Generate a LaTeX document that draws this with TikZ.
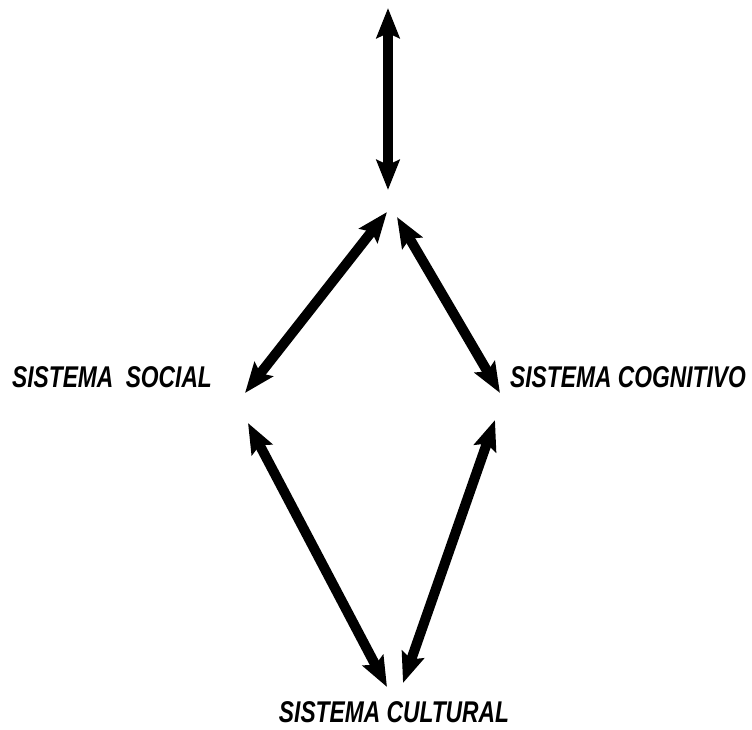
\documentclass[tikz,border=0pt]{standalone}
\usepackage{fontspec}
\newfontfamily\sistfont{Liberation Sans}[FakeStretch=0.76]
\usetikzlibrary{arrows.meta}

\begin{document}
\begin{tikzpicture}[x=1pt, y=-1pt,
    link/.style={line width=10pt, {Stealth[length=30pt,width=23pt,inset=5pt]}-{Stealth[length=30pt,width=23pt,inset=5pt]}},
    sistema/.style={inner sep=0pt, font=\sistfont\bfseries\itshape\fontsize{30}{30}\selectfont}]
  \useasboundingbox (0, 0) rectangle (752, 729);
  \node[sistema] (social) at (112, 377) {SISTEMA\hspace{6pt} SOCIAL};
  \node[sistema] (cognitivo) at (628, 377) {SISTEMA COGNITIVO};
  \node[sistema] (cultural) at (394, 712) {SISTEMA CULTURAL};
  \coordinate (top) at (388, 8);
  \coordinate (hub) at (388, 190);
  \coordinate (hubL) at (387, 212);
  \coordinate (hubR) at (397, 217);
  \coordinate (socialN) at (245, 393);
  \coordinate (socialS) at (248, 423);
  \coordinate (cognN) at (500, 393);
  \coordinate (cognS) at (495, 420);
  \coordinate (cultL) at (387, 687);
  \coordinate (cultR) at (403, 683);
  \draw[link] (top) -- (hub);
  \draw[link] (hubL) -- (socialN);
  \draw[link] (hubR) -- (cognN);
  \draw[link] (socialS) -- (cultL);
  \draw[link] (cognS) -- (cultR);
\end{tikzpicture}
\end{document}
